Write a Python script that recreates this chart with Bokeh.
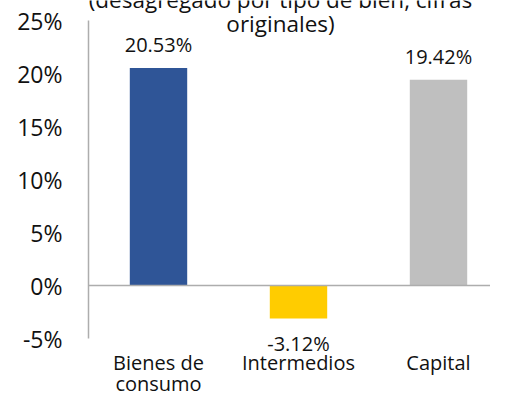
from bokeh.plotting import figure
from bokeh.models import ColumnDataSource, LabelSet, Span, FixedTicker, Range1d
from bokeh.core.properties import value
from bokeh.embed import file_html
from bokeh.resources import INLINE

categories = ["Bienes de consumo", "Intermedios", "Capital"]
cat_line1 = ["Bienes de", "Intermedios", "Capital"]
cat_line2 = ["consumo", "", ""]
values = [20.53, -3.12, 19.42]
value_labels = ["20.53%", "-3.12%", "19.42%"]
colors = ["#2F5597", "#FFCC00", "#BFBFBF"]
y_ticks = [-5, 0, 5, 10, 15, 20, 25]
title_lines = ["(desagregado por tipo de bien, cifras", "originales)"]

FONT = value("Open Sans")
TXT = "#111111"
AXC = "#ADADAD"
W, H = 490, 399
LEFT = 88
PX_X = 140.0      # pixels per category slot
PX_Y = 10.6       # pixels per percentage point
TOP_PX = 20       # distance of top tick from canvas top

xs = [i + 0.5 for i in range(len(categories))]
y_top = y_ticks[-1] + TOP_PX / PX_Y
y_bot = y_top - H / PX_Y

src = ColumnDataSource(dict(
    x=xs, cat=categories, val=values, lab=value_labels, color=colors,
    off=[16 if v >= 0 else -32 for v in values],
    l1=cat_line1, l2=cat_line2,
    base=[y_ticks[0]] * len(categories),
))

title_x = (280 - LEFT) / PX_X
tsrc = ColumnDataSource(dict(
    x=[title_x] * len(title_lines), y=[y_ticks[-1]] * len(title_lines),
    t=title_lines, off=[13 - 24 * i for i in range(len(title_lines))],
))

p = figure(width=W, height=H,
           x_range=Range1d(0, (W - LEFT) / PX_X), y_range=Range1d(y_bot, y_top),
           output_backend="svg", toolbar_location=None,
           min_border_left=LEFT, min_border_right=0, min_border_top=0, min_border_bottom=0)
p.outline_line_color = None
p.grid.visible = False
p.xaxis.visible = False

p.vbar(x="x", top="val", width=0.41, color="color", source=src, line_color=None)

p.add_layout(Span(location=0, dimension="width", line_color=AXC, line_width=1.5))

ya = p.yaxis[0]
ya.ticker = FixedTicker(ticks=y_ticks)
ya.bounds = (y_ticks[0], y_ticks[-1])
ya.major_label_overrides = {t: f"{t}%" for t in y_ticks}
ya.axis_line_color = AXC
ya.axis_line_width = 1.5
ya.major_tick_line_color = None
ya.minor_tick_line_color = None
ya.major_tick_out = 0
ya.major_tick_in = 0
ya.major_label_text_font = "Open Sans"
ya.major_label_text_font_size = "23px"
ya.major_label_text_color = TXT
ya.major_label_standoff = 26

p.add_layout(LabelSet(x="x", y="val", text="lab", y_offset="off", source=src,
                      text_align="center", text_baseline="alphabetic",
                      text_font=FONT, text_font_size="20px", text_color=TXT))
p.add_layout(LabelSet(x="x", y="base", text="l1", y_offset=-31, source=src,
                      text_align="center", text_baseline="alphabetic",
                      text_font=FONT, text_font_size="20px", text_color=TXT))
p.add_layout(LabelSet(x="x", y="base", text="l2", y_offset=-52, source=src,
                      text_align="center", text_baseline="alphabetic",
                      text_font=FONT, text_font_size="20px", text_color=TXT))
p.add_layout(LabelSet(x="x", y="y", text="t", y_offset="off", source=tsrc,
                      text_align="center", text_baseline="alphabetic",
                      text_font=FONT, text_font_size="22.5px", text_color=TXT))

open("out.html", "w").write(file_html(p, INLINE))
